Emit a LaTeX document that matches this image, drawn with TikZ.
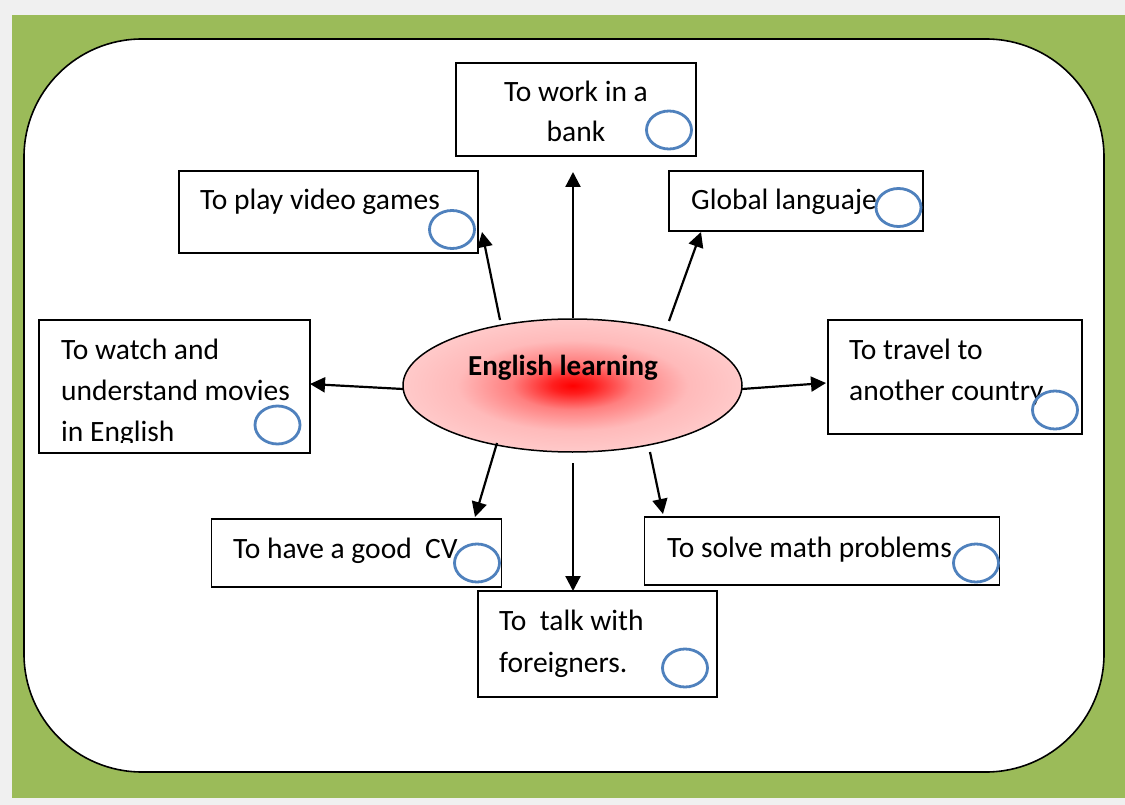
\documentclass[tikz,border=0pt]{standalone}
\usepackage{fontspec}
\setmainfont{Carlito}
\usetikzlibrary{shapes.geometric,arrows.meta}
\definecolor{bggray}{HTML}{F0F0F0}
\definecolor{framegreen}{HTML}{9BBB59}
\definecolor{chkblue}{HTML}{4F81BD}
\pgfdeclareradialshading{elshade}{\pgfpoint{0bp}{0bp}}{color(0bp)=(red); color(3bp)=(red!88); color(9bp)=(red!50); color(17bp)=(red!27); color(25bp)=(red!21); color(50bp)=(red!21)}
\tikzset{
  box/.style={draw=black, line width=1.3pt, fill=white, rectangle, inner sep=0pt},
  lbl/.style={anchor=base west, inner sep=0pt, font=\fontsize{29.5}{41}\selectfont},
  chk/.style={draw=chkblue, line width=2.8pt, ellipse, inner sep=0pt, minimum width=45pt, minimum height=38pt},
  arr/.style={line width=2.2pt, -{Triangle[length=15pt,width=15pt]}},
}
\begin{document}
\begin{tikzpicture}[x=1pt,y=-1pt]
\useasboundingbox (0,0) rectangle (1125,805);
\fill[bggray] (0,0) rectangle (1125,805);
\fill[framegreen] (12,15) rectangle (1125,798);
\draw[line width=1.6pt, fill=white, rounded corners=118pt] (24,39) rectangle (1104,772);

% central ellipse
\node[ellipse, draw=black, line width=1.5pt, minimum width=339pt, minimum height=133pt,
      shading=elshade] (el) at (572.5,385.5) {};
\node[anchor=base, inner sep=0pt, font=\fontsize{29}{35}\selectfont\bfseries] (eltxt) at (563,375) {English learning};

% boxes
\node[box, minimum width=240pt, minimum height=93pt] (bank) at (576,109.5) {};
\node[anchor=base, inner sep=0pt, font=\fontsize{29.5}{41}\selectfont] (bankt1) at (576,101.5) {To work in a};
\node[anchor=base, inner sep=0pt, font=\fontsize{29.5}{41}\selectfont] (bankt2) at (576,141.5) {bank};
\node[chk] (bankc) at (669,130) {};

\node[box, minimum width=254pt, minimum height=60pt] (glob) at (796,201) {};
\node[lbl] (globt) at (691,210) {Global languaje};
\node[chk] (globc) at (898.5,207.5) {};

\node[box, minimum width=299pt, minimum height=82pt] (play) at (328.5,212) {};
\node[lbl] (playt) at (200,210) {To play video games};
\node[chk] (playc) at (452,229.5) {};

\node[box, minimum width=271pt, minimum height=133pt] (watch) at (174.5,386.5) {};
\node[lbl] (watcht1) at (61,359) {To watch and};
\node[lbl] (watcht2) at (61,400) {understand movies};
\begin{scope}
\clip (40,405) rectangle (309,442);
\node[lbl] (watcht3) at (61,441) {in English};
\end{scope}
\node[chk] (watchc) at (277.5,425) {};

\node[box, minimum width=254pt, minimum height=114pt] (trav) at (955,377) {};
\node[lbl] (travt1) at (849,359) {To travel to};
\node[lbl] (travt2) at (849,400) {another country};
\node[chk] (travc) at (1055,410) {};

\node[box, minimum width=290pt, minimum height=68pt] (cv) at (356.5,553) {};
\node[lbl] (cvt) at (233,558) {To have a good\ \ CV};
\node[chk] (cvc) at (477,563) {};

\node[box, minimum width=355pt, minimum height=68pt] (math) at (822,551) {};
\node[lbl] (matht) at (667,557) {To solve math problems};
\node[chk] (mathc) at (976,563) {};

\node[box, minimum width=239pt, minimum height=106pt] (talk) at (597.5,644) {};
\node[lbl] (talkt1) at (499,630) {To\ \ talk with};
\node[lbl] (talkt2) at (499,672) {foreigners.};
\node[chk] (talkc) at (685,668) {};

% arrow endpoints
\coordinate (sU) at (573,318);  \coordinate (eU) at (573,172);
\coordinate (sUL) at (500,320); \coordinate (eUL) at (482,232);
\coordinate (sUR) at (669,321); \coordinate (eUR) at (701,232);
\coordinate (sL) at (403,389);  \coordinate (eL) at (310,384);
\coordinate (sR) at (742,389);  \coordinate (eR) at (826,383);
\coordinate (sLL) at (497,443); \coordinate (eLL) at (475,517);
\coordinate (sD) at (573,463);  \coordinate (eD) at (573,591);
\coordinate (sLR) at (650,452); \coordinate (eLR) at (663,514);

\draw[arr] (sU) -- (eU);
\draw[arr] (sUL) -- (eUL);
\draw[arr] (sUR) -- (eUR);
\draw[arr] (sL) -- (eL);
\draw[arr] (sR) -- (eR);
\draw[arr] (sLL) -- (eLL);
\draw[arr] (sD) -- (eD);
\draw[arr] (sLR) -- (eLR);
\end{tikzpicture}
\end{document}
